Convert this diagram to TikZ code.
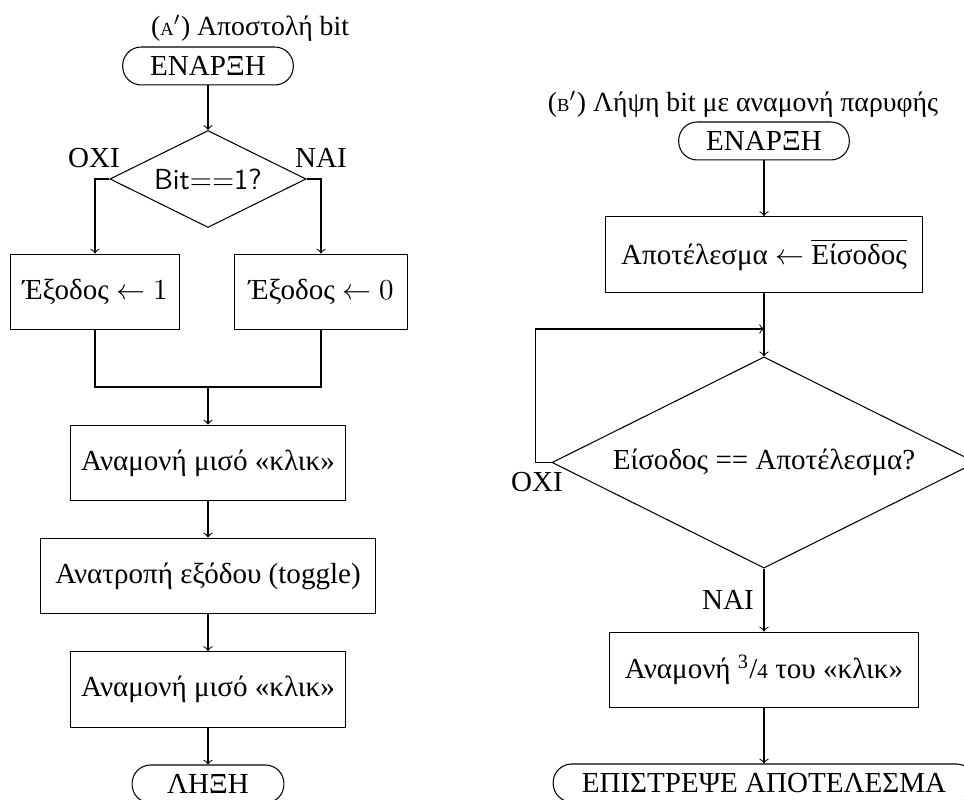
\documentclass[tikz,border=0pt]{standalone}
\usepackage{fontspec}
\setmainfont{Liberation Serif}
\usetikzlibrary{shapes.geometric}
\tikzset{
  term/.style={draw,rectangle,rounded corners=7pt,minimum height=0.505cm,inner sep=0pt},
  proc/.style={draw,rectangle,minimum height=1.01cm,inner sep=0pt},
  test/.style={draw,diamond,aspect=2,inner sep=0pt},
  lbl/.style={anchor=base,inner sep=0pt},
  subcap/.style={lbl,font=\fontsize{10.5}{12}\selectfont}
}
\begin{document}
\begin{tikzpicture}[x=0.0133cm,y=-0.0133cm,font=\fontsize{11}{13}\selectfont]
        \useasboundingbox (0,0) rectangle (964,800);
        % (a) send
        \node[subcap] (capA) at (250,36) {({\scriptsize Α}$'$) Αποστολή bit};
        \node[term,minimum width=2.27cm] (startA) at (208,66) {ΕΝΑΡΞΗ};
        \node[test,minimum width=2.61cm,minimum height=1.29cm] (testA) at (208,179) {\sffamily Bit==1?};
        \node[proc,minimum width=2.26cm] (outOne) at (95,292) {Έξοδος $\leftarrow 1$};
        \node[proc,minimum width=2.31cm] (outZero) at (321,292) {Έξοδος $\leftarrow 0$};
        \coordinate (joinA) at (208,387);
        \node[proc,minimum width=3.67cm] (waitA) at (208,463) {Αναμονή μισό «κλικ»};
        \node[proc,minimum width=4.46cm] (flip) at (208,576) {Ανατροπή εξόδου (toggle)};
        \node[proc,minimum width=3.67cm] (waitB) at (208,689.5) {Αναμονή μισό «κλικ»};
        \node[term,minimum width=2.02cm] (stopA) at (208,784) {ΛΗΞΗ};
        \node[lbl] (noA) at (94,168) {ΟΧΙ};
        \node[lbl] (yesA) at (321,168) {ΝΑΙ};
        \draw[->] (startA) -- (testA);
        \draw[->] (testA.west) -| (outOne.north);
        \draw[->] (testA.east) -| (outZero.north);
        \draw (outOne.south) |- (joinA) -| (outZero.south);
        \draw[->] (joinA) -- (waitA);
        \draw[->] (waitA) -- (flip);
        \draw[->] (flip) -- (waitB);
        \draw[->] (waitB) -- (stopA);
        % (b) receive
        \node[subcap] (capB) at (743,112) {({\scriptsize Β}$'$) Λήψη bit με αναμονή παρυφής};
        \node[term,minimum width=2.27cm] (startB) at (764,141) {ΕΝΑΡΞΗ};
        \node[proc,minimum width=4.23cm] (inv) at (764,254.5) {Αποτέλεσμα $\leftarrow$ $\overline{\mbox{Είσοδος}}$};
        \coordinate (loopB) at (764,329);
        \node[test,minimum width=5.64cm,minimum height=2.81cm] (testB) at (764,462.5) {Είσοδος == Αποτέλεσμα?};
        \node[proc,minimum width=4.11cm] (waitC) at (764,670) {Αναμονή \textsuperscript{3}/{\footnotesize 4} του «κλικ»};
        \node[term,minimum width=5.61cm] (stopB) at (764,783) {ΕΠΙΣΤΡΕΨΕ ΑΠΟΤΕΛΕΣΜΑ};
        \node[lbl] (noB) at (537,492) {ΟΧΙ};
        \node[lbl] (yesB) at (728,610) {ΝΑΙ};
        \draw[->] (startB) -- (inv);
        \draw[->] (inv) -- (testB);
        \draw[->] (testB.west) -- ++(-16,0) |- (loopB);
        \draw[->] (testB) -- (waitC);
        \draw[->] (waitC) -- (stopB);
    \end{tikzpicture}
\end{document}
